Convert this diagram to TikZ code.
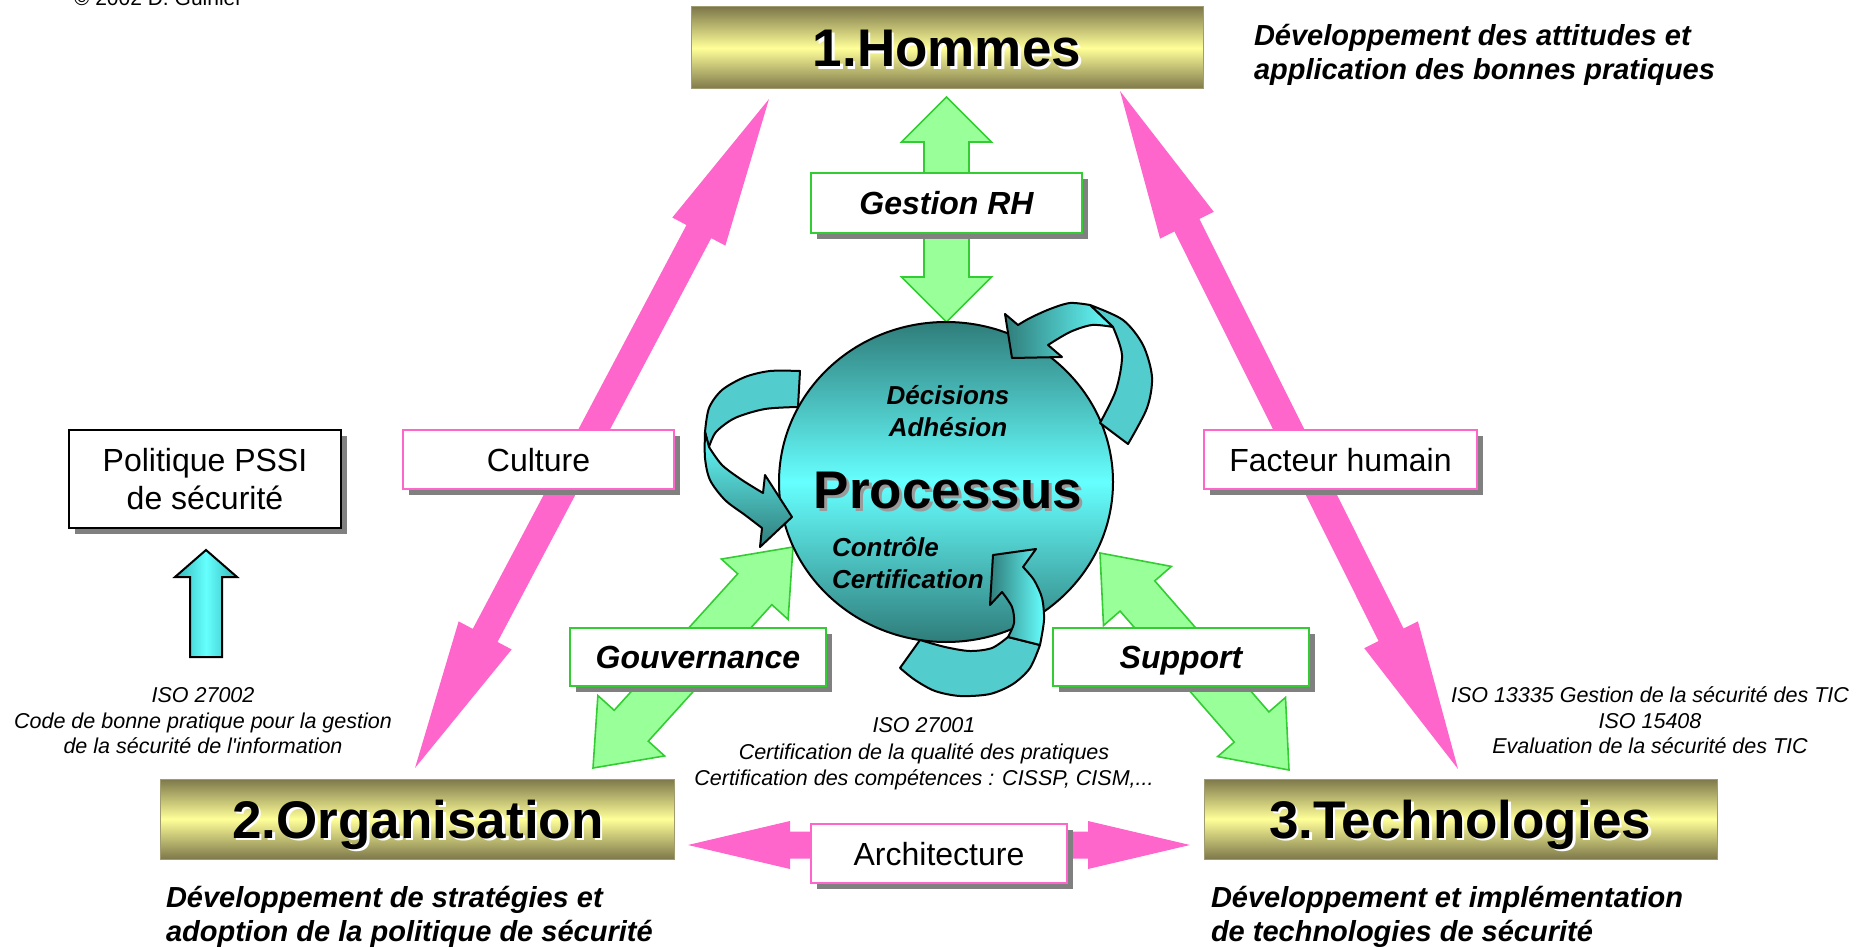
\documentclass[tikz,border=0pt]{standalone}
\usepackage{fontspec}
\setmainfont{Liberation Sans}
\usetikzlibrary{calc,shapes.geometric,shadows}

\definecolor{pinkarrow}{HTML}{FF66CC}
\definecolor{greenfill}{HTML}{99FF99}
\definecolor{greenline}{HTML}{33CC33}
\definecolor{cyanlight}{HTML}{66FFFF}
\definecolor{tealdark}{HTML}{2F7D7A}
\definecolor{tealmid}{HTML}{33B8B8}
\definecolor{tealflat}{HTML}{52CCCC}
\definecolor{titleolive}{HTML}{7D784A}
\definecolor{titleedge}{HTML}{A09C70}
\definecolor{paleyellow}{HTML}{FFFF99}
\definecolor{shadowgray}{HTML}{808080}
\definecolor{procshadow}{HTML}{9A9A9A}

% double-headed block arrow: style, end A, end B, shaft half width, head length, head half width
\newcommand{\blockarrow}[6]{%
  \coordinate (ba-a) at ($(#2)!#5!(#3)$);
  \coordinate (ba-b) at ($(#3)!#5!(#2)$);
  \path[#1] (#2) -- ($(ba-a)!#6!90:(#3)$) -- ($(ba-a)!#4!90:(#3)$)
    -- ($(ba-b)!#4!-90:(#2)$) -- ($(ba-b)!#6!-90:(#2)$) -- (#3)
    -- ($(ba-b)!#6!90:(#2)$) -- ($(ba-b)!#4!90:(#2)$)
    -- ($(ba-a)!#4!-90:(#3)$) -- ($(ba-a)!#6!-90:(#3)$) -- cycle;
}

\tikzset{
  every node/.style={inner sep=0pt, outer sep=0pt},
  pinkshape/.style={fill=pinkarrow},
  greenshape/.style={fill=greenfill, draw=greenline, line width=1.6pt, line join=miter},
  titlebox/.style={rectangle, draw=titleedge, line width=1pt,
    top color=titleolive, bottom color=titleolive, middle color=paleyellow},
  titletext/.style={anchor=base, font=\fontsize{53}{60}\selectfont\bfseries},
  labelbox/.style={rectangle, fill=white, line width=2pt,
    drop shadow={shadow xshift=6pt, shadow yshift=-6pt, fill=shadowgray, opacity=1},
    text height=23pt, text depth=0pt},
  greenbox/.style={labelbox, draw=greenline, font=\fontsize{32}{38}\selectfont\bfseries\itshape},
  pinkbox/.style={labelbox, draw=pinkarrow, font=\fontsize{32}{38}\selectfont},
  ribbonedge/.style={draw=black, line width=2pt, line join=round},
  ribbonflat/.style={ribbonedge, fill=tealflat},
  circtext/.style={anchor=base, font=\fontsize{26}{30}\selectfont\bfseries\itshape},
  isotext/.style={anchor=base, font=\fontsize{21.5}{26}\selectfont\itshape},
  desctext/.style={anchor=base west, font=\fontsize{29}{34}\selectfont\bfseries\itshape},
}

\begin{document}
\begin{tikzpicture}[x=1pt,y=-1pt]
\useasboundingbox (0,0) rectangle (1861,947);

% --- the three pillars
\node[titlebox, minimum width=512pt, minimum height=82pt] (hommes) at (947,48) {};
\node[titlebox, minimum width=514pt, minimum height=80pt] (orga) at (417,819) {};
\node[titlebox, minimum width=513pt, minimum height=80pt] (techno) at (1460.5,819) {};

% --- pink links between the pillars
\coordinate (cultLow) at (415,768);
\coordinate (cultHigh) at (769,99);
\coordinate (factHigh) at (1120,91);
\coordinate (factLow) at (1458,769);
\coordinate (archLeft) at (688,845);
\coordinate (archRight) at (1190,845);
\blockarrow{pinkshape}{cultLow}{cultHigh}{14pt}{150pt}{30pt}
\blockarrow{pinkshape}{factHigh}{factLow}{14pt}{150pt}{30pt}
\blockarrow{pinkshape}{archLeft}{archRight}{13.5pt}{102pt}{24pt}

% --- green links towards the process
\coordinate (rhTop) at (946.5,97);
\coordinate (rhBottom) at (946.5,322);
\coordinate (gouvLow) at (593,768);
\coordinate (gouvHigh) at (793,547);
\coordinate (suppLow) at (1289,770);
\coordinate (suppHigh) at (1100,553);
\blockarrow{greenshape}{rhTop}{rhBottom}{22.5pt}{45pt}{45pt}
\blockarrow{greenshape}{gouvLow}{gouvHigh}{23pt}{57pt}{45pt}
\blockarrow{greenshape}{suppLow}{suppHigh}{23pt}{57pt}{45pt}

% --- the process sphere
\node[ellipse, draw=black, line width=2pt, minimum width=334pt, minimum height=320pt,
      top color=tealdark, bottom color=tealdark, middle color=cyanlight] (proc) at (946,482) {};

% --- curved ribbons around the sphere
% upper right ribbon
\path[ribbonflat] plot[smooth] coordinates {(1090,305) (1123,320) (1143,345) (1152,377) (1147,408) (1128,444)}
  -- plot[smooth] coordinates {(1100,423) (1116,390) (1122,355) (1113,327)} -- cycle;
\path[ribbonedge, left color=tealdark, right color=cyanlight]
  plot[smooth] coordinates {(1090,305) (1070,303) (1050,309) (1030,318) (1018,325)}
  -- (1005,314) -- (1012,358) -- (1062,357) -- (1048,345)
  -- plot[smooth] coordinates {(1048,345) (1070,332) (1092,325) (1113,327)} -- cycle;
% left ribbon
\path[ribbonflat] plot[smooth] coordinates {(800,371) (770,371) (745,377) (722,390) (709,408) (705,432)}
  -- plot[smooth] coordinates {(709,447) (716,432) (735,418) (765,409) (798,407)} -- cycle;
\path[ribbonedge, top color=cyanlight, bottom color=tealdark]
  plot[smooth] coordinates {(705,432) (705,458) (710,480) (725,500) (745,515) (762,528)}
  -- (760,547) -- (792,517) -- (765,475)
  -- plot[smooth] coordinates {(763,493) (742,480) (722,465) (709,447)} -- cycle;
% lower ribbon
\path[ribbonflat] (900,668)
  -- plot[smooth] coordinates {(920,640) (945,647) (970,651) (992,648) (1008,637)}
  -- plot[smooth] coordinates {(1040,645) (1030,668) (1013,684) (990,694) (960,696) (935,691) (915,680) (900,668)} -- cycle;
\path[ribbonedge, left color=tealdark, right color=cyanlight]
  plot[smooth] coordinates {(1040,645) (1044,620) (1042,598) (1034,580) (1023,567)}
  -- (1036,549) -- (993,555) -- (990,605)
  -- plot[smooth] coordinates {(1002,592) (1012,607) (1014,623) (1008,637)} -- cycle;

% --- texts on the sphere
\node[circtext] (decisions) at (948,404) {Décisions};
\node[circtext] (adhesion) at (948,436) {Adhésion};
\node[anchor=base, font=\fontsize{53}{60}\selectfont\bfseries, text=procshadow] (procglow) at (951,511) {Processus};
\node[anchor=base, font=\fontsize{53}{60}\selectfont\bfseries] (proctitle) at (948,508) {Processus};
\node[circtext, anchor=base west] (controle) at (832,556) {Contrôle};
\node[circtext, anchor=base west] (certif) at (832,588) {Certification};

% --- label boxes
\node[greenbox, minimum width=271pt, minimum height=60pt] (gestion) at (946.5,203) {Gestion RH};
\node[greenbox, minimum width=256pt, minimum height=58pt] (gouv) at (698,657) {Gouvernance};
\node[greenbox, minimum width=256pt, minimum height=58pt] (support) at (1181,657) {Support};
\node[pinkbox, minimum width=271pt, minimum height=59pt] (culture) at (538.5,459.5) {Culture};
\node[pinkbox, minimum width=273pt, minimum height=59pt] (facteur) at (1340.5,459.5) {Facteur humain};
\node[pinkbox, minimum width=256pt, minimum height=59pt] (archi) at (939,853.5) {Architecture};

% --- security policy box and its arrow
\node[rectangle, draw=black, line width=2pt, fill=white,
      drop shadow={shadow xshift=6pt, shadow yshift=-6pt, fill=shadowgray, opacity=1},
      minimum width=272pt, minimum height=98pt, align=center,
      font=\fontsize{32}{38.5}\selectfont] (pssi) at (205,479) {Politique PSSI\\de sécurité};
\coordinate (pssiTip) at (206,550);
\coordinate (pssiBase) at (206,657);
\path[draw=black, line width=2pt, line join=miter, left color=tealmid, right color=tealmid, middle color=cyanlight]
  (pssiTip) -- ($(pssiTip)+(31,27)$) -- ($(pssiTip)+(16,27)$) -- ($(pssiBase)+(16,0)$)
  -- ($(pssiBase)+(-16,0)$) -- ($(pssiTip)+(-16,27)$) -- ($(pssiTip)+(-31,27)$) -- cycle;

% --- pillar titles
\node[titletext, text=white] (hommesglow) at (949.5,69.5) {1.Hommes};
\node[titletext] (hommestitle) at (947,67) {1.Hommes};
\node[titletext, text=white] (orgaglow) at (420.5,840.5) {2.Organisation};
\node[titletext] (orgatitle) at (418,838) {2.Organisation};
\node[titletext, text=white] (technoglow) at (1462.5,840.5) {3.Technologies};
\node[titletext] (technotitle) at (1460,838) {3.Technologies};

% --- descriptions
\node[desctext] (hdesc1) at (1254,46) {Développement des attitudes et};
\node[desctext] (hdesc2) at (1254,80) {application des bonnes pratiques};
\node[desctext] (odesc1) at (166,907) {Développement de stratégies et};
\node[desctext] (odesc2) at (166,941) {adoption de la politique de sécurité};
\node[desctext] (tdesc1) at (1211,907) {Développement et implémentation};
\node[desctext] (tdesc2) at (1211,941) {de technologies de sécurité};

% --- standards
\node[isotext] (isoa1) at (203,702) {ISO 27002};
\node[isotext] (isoa2) at (203,728) {Code de bonne pratique pour la gestion};
\node[isotext] (isoa3) at (203,753) {de la sécurité de l\textquotesingle information};
\node[isotext] (isob1) at (924,732) {ISO 27001};
\node[isotext] (isob2) at (924,759) {Certification de la qualité des pratiques};
\node[isotext] (isob3) at (924,785) {Certification des compétences : CISSP, CISM,...};
\node[isotext] (isoc1) at (1650,702) {ISO 13335 Gestion de la sécurité des TIC};
\node[isotext] (isoc2) at (1650,728) {ISO 15408};
\node[isotext] (isoc3) at (1650,753) {Evaluation de la sécurité des TIC};

% --- credit line
\node[anchor=base west, font=\fontsize{21}{25}\selectfont] (credit) at (74,6) {© 2002 D. Guinier};
\end{tikzpicture}
\end{document}
